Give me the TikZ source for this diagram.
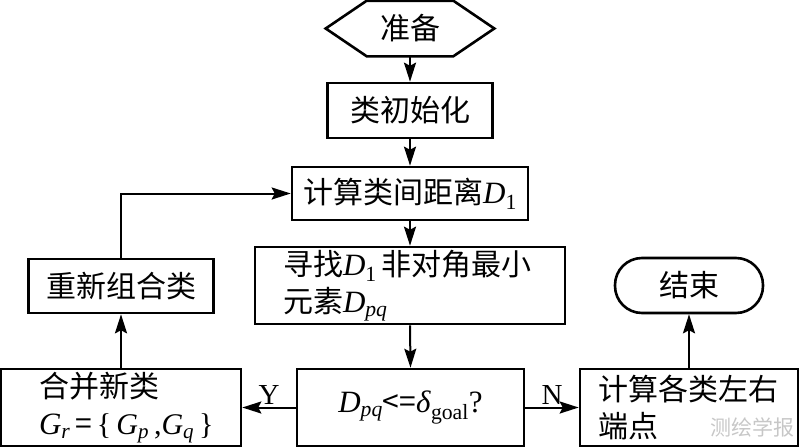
\documentclass[tikz,border=0pt]{standalone}
\usepackage{fontspec}
\setmainfont{Liberation Serif}
\newfontfamily\cjk{Noto Sans CJK SC}
\usetikzlibrary{arrows.meta}
\newcommand\lsym[2]{{\rmfamily\fontsize{31}{37}\selectfont\textit{#1}\textsubscript{#2}}}
\begin{document}
\begin{tikzpicture}[x=1pt,y=-1pt,
  box/.style={draw, line width=2.6pt, font=\cjk\fontsize{30}{37}\selectfont, inner sep=0pt},
  conn/.style={line width=2pt, -{Stealth[length=19pt,width=12pt,inset=3pt]}},
  lbl/.style={font=\rmfamily\fontsize{29}{30}\selectfont, inner sep=1pt},
  wmark/.style={font=\cjk\fontsize{21}{21}\selectfont, text=black!22}]
\useasboundingbox (0,0) rectangle (800,447);
\node[box, draw=none, minimum width=166, minimum height=53] (prep) at (410,28.5) {准备};
\draw[line width=2.6pt] (prep.west) -- ([xshift=41pt]prep.north west) -- ([xshift=-41pt]prep.north east) -- (prep.east) -- ([xshift=-41pt]prep.south east) -- ([xshift=41pt]prep.south west) -- cycle;
\node[box, minimum width=165, minimum height=55] (init) at (410,110.5) {类初始化};
\node[box, minimum width=236, minimum height=53] (dist) at (410,193.5) {计算类间距离\lsym{D}{1}};
\node[box, minimum width=310, minimum height=77, text width=254, inner xsep=28pt, align=left] (find) at (410,285.5) {寻找\lsym{D}{1}\,非对角最小\\元素\lsym{D}{\itshape pq}};
\node[box, minimum width=185, minimum height=54] (regroup) at (121,286) {重新组合类};
\node[box, minimum width=148, minimum height=55, rounded corners=27pt] (end) at (689,285.5) {结束};
\node[box, minimum width=240, minimum height=77, text width=164, inner xsep=38pt, align=left] (merge) at (121,407.5) {合并新类\\\lsym{G}{\itshape r}\,=\,{\rmfamily\fontsize{30}{37}\selectfont\{\,\textit{G}\textsubscript{\itshape p}\,,\textit{G}\textsubscript{\itshape q}\,\}}};
\node[box, minimum width=227, minimum height=77] (cond) at (410.5,407.5) {\lsym{D}{\itshape pq}<=\lsym{δ}{goal}{\rmfamily\fontsize{31}{37}\selectfont ?}};
\node[box, minimum width=218, minimum height=77, text width=182, inner xsep=18pt, align=left] (calc) at (689,407.5) {计算各类左右\\端点};
\node[wmark] (wm) at (752,427) {测绘学报};
\draw[conn] (prep.south) -- (init.north);
\draw[conn] (init.south) -- (dist.north);
\draw[conn] (dist.south) -- (find.north);
\draw[conn] (find.south) -- (cond.north);
\draw[conn] (regroup.north) |- (dist.west);
\draw[conn] (merge.north) -- (regroup.south);
\draw[conn] (calc.north) -- (end.south);
\draw[conn] (cond.west) -- node[lbl, above=1pt] {Y} (merge.east);
\draw[conn] (cond.east) -- node[lbl, above=1pt] {N} (calc.west);
\end{tikzpicture}
\end{document}
